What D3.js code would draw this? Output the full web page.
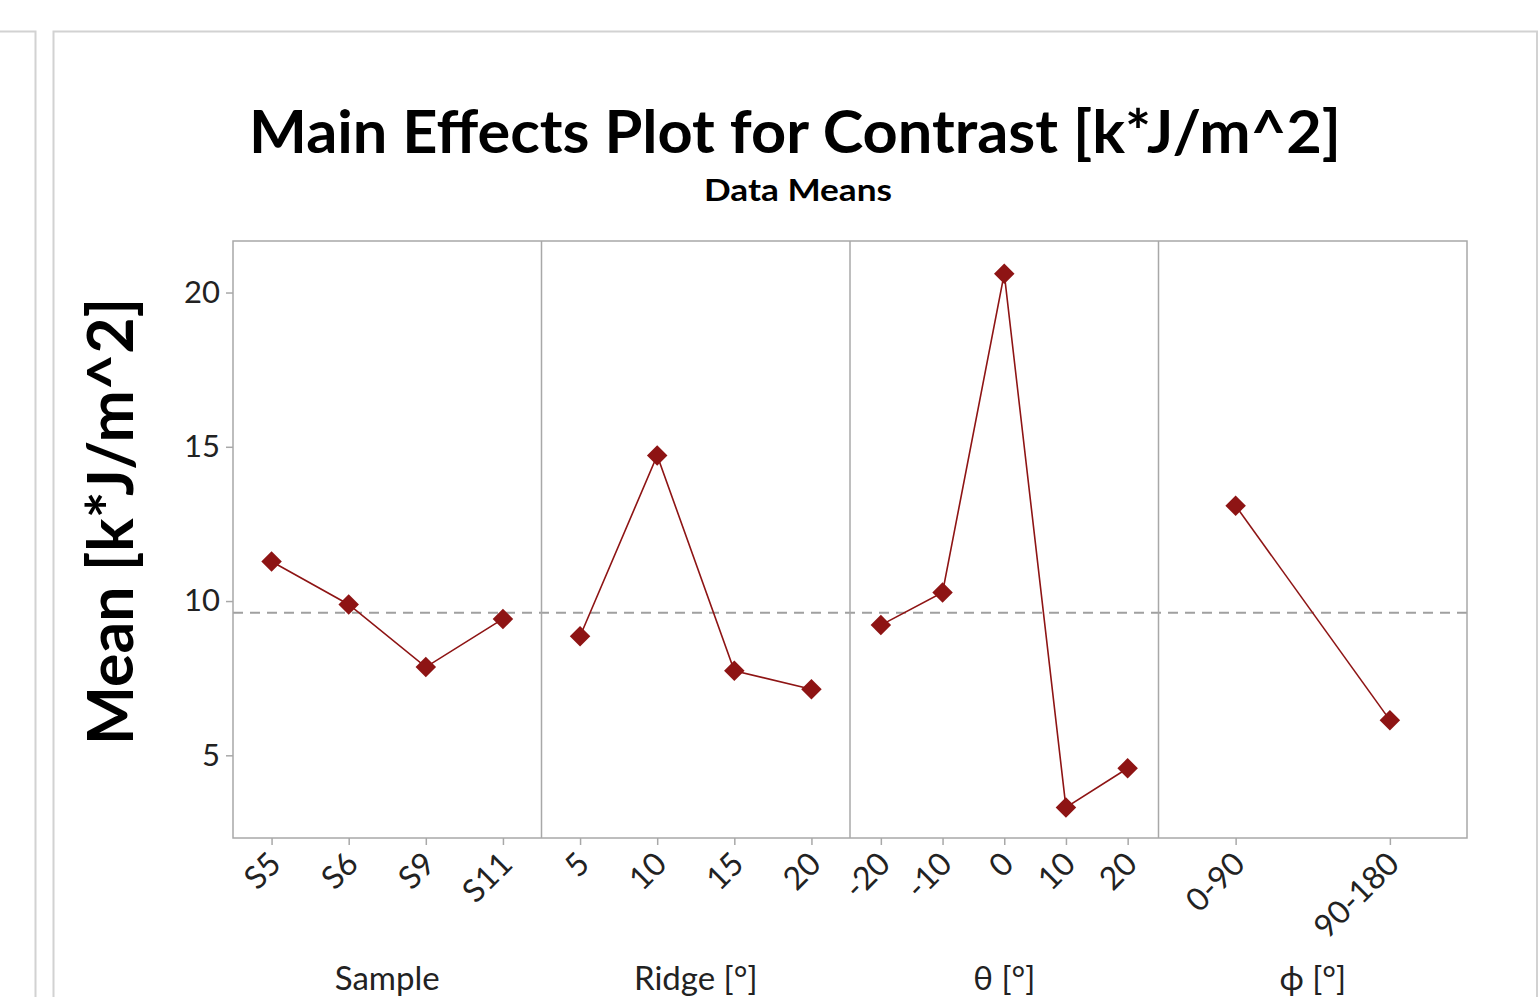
<!DOCTYPE html>
<html><head><meta charset="utf-8">
<script src="https://cdn.jsdelivr.net/npm/d3@7"></script>
<style>
html,body{margin:0;padding:0;background:#fff;overflow:hidden;}
svg{display:block;}
</style></head>
<body>
<svg id="chart" width="1539" height="997"></svg>
<script>
// ---- data ----
const factorNames = ["Sample", "Ridge [°]", "θ [°]", "ϕ [°]"];
const sampleLevels = ["S5", "S6", "S9", "S11"];
const sampleMeans  = [11.28, 9.89, 7.86, 9.42];
const ridgeLevels  = ["5", "10", "15", "20"];
const ridgeMeans   = [8.86, 14.72, 7.74, 7.14];
const thetaLevels  = ["-20", "-10", "0", "10", "20"];
const thetaMeans   = [9.22, 10.28, 20.61, 3.31, 4.58];
const phiLevels    = ["0-90", "90-180"];
const phiMeans     = [13.09, 6.14];
const yTicks = [5, 10, 15, 20];
const grandMean = 9.62;
const yDomain = [2.32, 21.67];

const factors = [
  {name: factorNames[0], levels: sampleLevels, means: sampleMeans},
  {name: factorNames[1], levels: ridgeLevels,  means: ridgeMeans},
  {name: factorNames[2], levels: thetaLevels,  means: thetaMeans},
  {name: factorNames[3], levels: phiLevels,    means: phiMeans}
];

const svg = d3.select("#chart");
const FONT = "Lato, 'Open Sans', sans-serif";
const red = "#8e1414";
const frameGray = "#d2d2d2";
const axisGray = "#a8a8a8";

// page frames
svg.append("path").attr("d", "M0,31.5H35.5V997").attr("fill", "none").attr("stroke", frameGray).attr("stroke-width", 2);
svg.append("path").attr("d", "M53.5,997V31.5H1537V997").attr("fill", "none").attr("stroke", frameGray).attr("stroke-width", 2);

const L = 233, R = 1467, T = 241, B = 838;
const y = d3.scaleLinear().domain(yDomain).range([B, T]);
const outer = d3.scaleBand().domain(factorNames).range([L, R]).padding(0);

// title
svg.append("text").attr("x", 795).attr("y", 153).attr("text-anchor", "middle")
  .attr("font-family", FONT).attr("font-weight", 700).attr("font-size", 60)
  .attr("textLength", 1092).attr("lengthAdjust", "spacingAndGlyphs")
  .attr("fill", "#000").text("Main Effects Plot for Contrast [k*J/m^2]");
svg.append("text").attr("x", 798).attr("y", 201).attr("text-anchor", "middle")
  .attr("font-family", FONT).attr("font-weight", 700).attr("font-size", 31)
  .attr("textLength", 188).attr("lengthAdjust", "spacingAndGlyphs")
  .attr("fill", "#000").text("Data Means");

// y label
svg.append("text").attr("transform", "translate(133,521.5) rotate(-90)")
  .attr("text-anchor", "middle")
  .attr("font-family", FONT).attr("font-weight", 700).attr("font-size", 63)
  .attr("textLength", 447).attr("lengthAdjust", "spacingAndGlyphs")
  .attr("fill", "#000").text("Mean [k*J/m^2]");

// y axis
const yAxis = d3.axisLeft(y).tickValues(yTicks).tickSize(7).tickPadding(6);
const gy = svg.append("g").attr("transform", `translate(${L},0)`).call(yAxis);
gy.select(".domain").remove();
gy.selectAll(".tick line").attr("stroke", axisGray).attr("stroke-width", 1.5);
gy.selectAll(".tick text").attr("font-family", FONT).attr("font-size", 31).attr("fill", "#222");

// reference line
svg.append("line").attr("x1", L).attr("x2", R).attr("y1", y(grandMean)).attr("y2", y(grandMean))
  .attr("stroke", "#a0a0a0").attr("stroke-width", 2).attr("stroke-dasharray", "10,7");

// panels
factors.forEach((f, i) => {
  const x0 = outer(f.name), x1 = x0 + outer.bandwidth();
  const x = d3.scalePoint().domain(f.levels).range([x0, x1]).padding(0.5);
  const xAxis = d3.axisBottom(x).tickSize(7).tickPadding(0);
  const gx = svg.append("g").attr("transform", `translate(0,${B})`).call(xAxis);
  gx.select(".domain").remove();
  gx.selectAll(".tick line").attr("stroke", axisGray).attr("stroke-width", 1.5);
  gx.selectAll(".tick text")
    .attr("font-family", FONT).attr("font-size", 32).attr("fill", "#222")
    .attr("text-anchor", "end")
    .attr("dy", "0.35em")
    .attr("transform", "translate(-2,15) rotate(-45)");
  // factor title
  svg.append("text").attr("x", (x0 + x1) / 2).attr("y", 990).attr("text-anchor", "middle")
    .attr("font-family", FONT).attr("font-size", 33).attr("fill", "#222").text(f.name);
  // line and points
  const pts = f.levels.map((lv, k) => [x(lv), y(f.means[k])]);
  svg.append("path").attr("d", d3.line()(pts)).attr("fill", "none")
    .attr("stroke", red).attr("stroke-width", 1.6);
  svg.append("g").selectAll("path").data(pts).join("path")
    .attr("transform", d => `translate(${d[0]},${d[1]}) rotate(45)`)
    .attr("d", d3.symbol().type(d3.symbolSquare).size(210))
    .attr("fill", red);
  if (i > 0) {
    svg.append("line").attr("x1", x0).attr("x2", x0).attr("y1", T).attr("y2", B)
      .attr("stroke", axisGray).attr("stroke-width", 1.5);
  }
});

// plot border
svg.append("rect").attr("x", L).attr("y", T).attr("width", R - L).attr("height", B - T)
  .attr("fill", "none").attr("stroke", axisGray).attr("stroke-width", 1.5);
</script>
</body></html>
